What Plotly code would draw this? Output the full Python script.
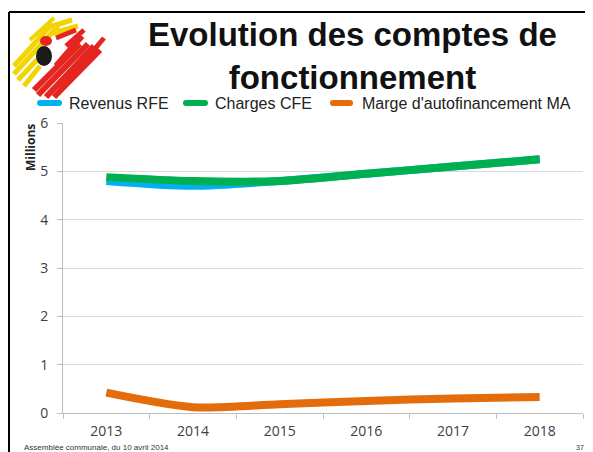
import plotly.graph_objects as go

years = ["2013", "2014", "2015", "2016", "2017", "2018"]
revenus_rfe = [4.80, 4.70, 4.80, 4.95, 5.10, 5.25]
charges_cfe = [4.88, 4.80, 4.80, 4.95, 5.10, 5.25]
marge_ma = [0.42, 0.12, 0.18, 0.25, 0.30, 0.33]
y_ticks = [0, 1, 2, 3, 4, 5, 6]
series_names = ["Revenus RFE", "Charges CFE", "Marge d'autofinancement MA"]
series_colors = ["#00B0F0", "#00B050", "#E46C0A"]

# page body has an 8px margin: work in reference pixels, shifted by OFF
OFF = 8
REF_W, REF_H = 593, 452
W, H = REF_W - OFF, REF_H - OFF
PL, PR, PT, PB = 63, 583, 123, 413          # plot box in reference pixels
L, R, T, B = PL - OFF, W - (PR - OFF), PT - OFF, H - (PB - OFF)
pw, ph = W - L - R, H - T - B


def px(x):
    return (x - OFF - L) / pw


def py(y):
    return (H - B - (y - OFF)) / ph


fig = go.Figure()
for name, vals, col in zip(series_names, [revenus_rfe, charges_cfe, marge_ma], series_colors):
    fig.add_trace(go.Scatter(x=years, y=vals, name=name, mode="lines", showlegend=False,
                             line=dict(color=col, width=8, shape="spline", smoothing=0.8)))

shapes = [
    dict(type="line", xref="paper", yref="paper", x0=px(9), x1=px(600), y0=py(12), y1=py(12),
         line=dict(color="black", width=2)),
    dict(type="line", xref="paper", yref="paper", x0=px(9), x1=px(9), y0=py(12), y1=py(460),
         line=dict(color="black", width=2)),
]

# logo brush strokes (approximation)
logo = [
    ("#F2D400", (14, 66), (52, 24), 5), ("#F2D400", (14, 74), (58, 26), 5),
    ("#F2D400", (18, 80), (48, 48), 5), ("#F2D400", (24, 86), (40, 66), 5),
    ("#F2D400", (30, 40), (54, 18), 4), ("#F2D400", (46, 28), (72, 20), 5),
    ("#F2D400", (50, 34), (78, 26), 5),
    ("#E52520", (34, 90), (80, 44), 6), ("#E52520", (38, 95), (88, 44), 6),
    ("#E52520", (46, 97), (94, 46), 6), ("#E52520", (54, 97), (100, 50), 6),
    ("#E52520", (60, 90), (104, 38), 5), ("#E52520", (56, 66), (82, 36), 6),
    ("#E52520", (66, 46), (84, 30), 5), ("#E52520", (56, 38), (76, 30), 5),
]
for col, (x0, y0), (x1, y1), wdt in logo:
    shapes.append(dict(type="line", xref="paper", yref="paper", x0=px(x0), y0=py(y0),
                       x1=px(x1), y1=py(y1), line=dict(color=col, width=wdt)))
shapes.append(dict(type="circle", xref="paper", yref="paper", x0=px(36), x1=px(52),
                   y0=py(66), y1=py(46), fillcolor="#1a1a1a", line=dict(width=0)))
shapes.append(dict(type="circle", xref="paper", yref="paper", x0=px(40), x1=px(52),
                   y0=py(46), y1=py(36), fillcolor="#E52520", line=dict(width=0)))

annotations = [
    dict(text="<b>Evolution des comptes de<br>fonctionnement</b>", xref="paper", yref="paper",
         x=px(352), y=py(14), xanchor="center", yanchor="top", showarrow=False,
         font=dict(family="Liberation Sans, Arial", size=33, color="#111111")),
    dict(text="<b>Millions</b>", xref="paper", yref="paper", x=px(30), y=py(148),
         xanchor="center", yanchor="middle", textangle=-90, showarrow=False,
         font=dict(family="Open Sans, Noto Sans", size=12, color="#222222")),
    dict(text="Assemblée communale, du 10 avril 2014", xref="paper", yref="paper",
         x=px(22), y=py(447), xanchor="left", yanchor="middle", showarrow=False,
         font=dict(family="Liberation Sans, Arial", size=8, color="#333333")),
    dict(text="37", xref="paper", yref="paper",
         x=px(586), y=py(447), xanchor="right", yanchor="middle", showarrow=False,
         font=dict(family="Liberation Sans, Arial", size=7, color="#333333")),
]

# manual legend (positions)
legend_sym = [(37, 62), (183, 208), (330, 353)]
legend_txt = [67, 213, 360]
LY = 103
for name, col, (sx0, sx1), tx in zip(series_names, series_colors, legend_sym, legend_txt):
    shapes.append(dict(type="line", xref="paper", yref="paper", x0=px(sx0 + 3), x1=px(sx1 - 3),
                       y0=py(LY), y1=py(LY), line=dict(color=col, width=6)))
    shapes.append(dict(type="circle", xref="paper", yref="paper", x0=px(sx0), x1=px(sx0 + 6),
                       y0=py(LY + 3), y1=py(LY - 3), fillcolor=col, line=dict(width=0)))
    shapes.append(dict(type="circle", xref="paper", yref="paper", x0=px(sx1 - 6), x1=px(sx1),
                       y0=py(LY + 3), y1=py(LY - 3), fillcolor=col, line=dict(width=0)))
    annotations.append(dict(text=name, xref="paper", yref="paper", x=px(tx), y=py(LY),
                            xanchor="left", yanchor="middle", showarrow=False,
                            font=dict(family="Liberation Sans, Arial", size=16, color="#222222")))

tickfont = dict(family="Open Sans, Noto Sans", size=14, color="#404040")
fig.update_layout(
    width=W, height=H,
    margin=dict(l=L, r=R, t=T, b=B, autoexpand=False),
    paper_bgcolor="white", plot_bgcolor="white",
    showlegend=False,
    xaxis=dict(type="category", range=[-0.5, 5.5], showgrid=False, showline=True,
               linecolor="#BFBFBF", linewidth=1, ticks="outside", ticklen=5, tickcolor="#BFBFBF",
               tickson="boundaries", tickfont=tickfont, ticklabelstandoff=5,
               zeroline=False, fixedrange=True),
    yaxis=dict(range=[0, 6], tickvals=y_ticks, showgrid=True, gridcolor="#D9D9D9", gridwidth=1,
               showline=True, linecolor="#BFBFBF", ticks="outside", ticklen=5, tickcolor="#BFBFBF",
               tickfont=tickfont, ticklabelstandoff=6,
               zeroline=False, fixedrange=True),
    shapes=shapes, annotations=annotations,
)
fig.write_html("out.html")
